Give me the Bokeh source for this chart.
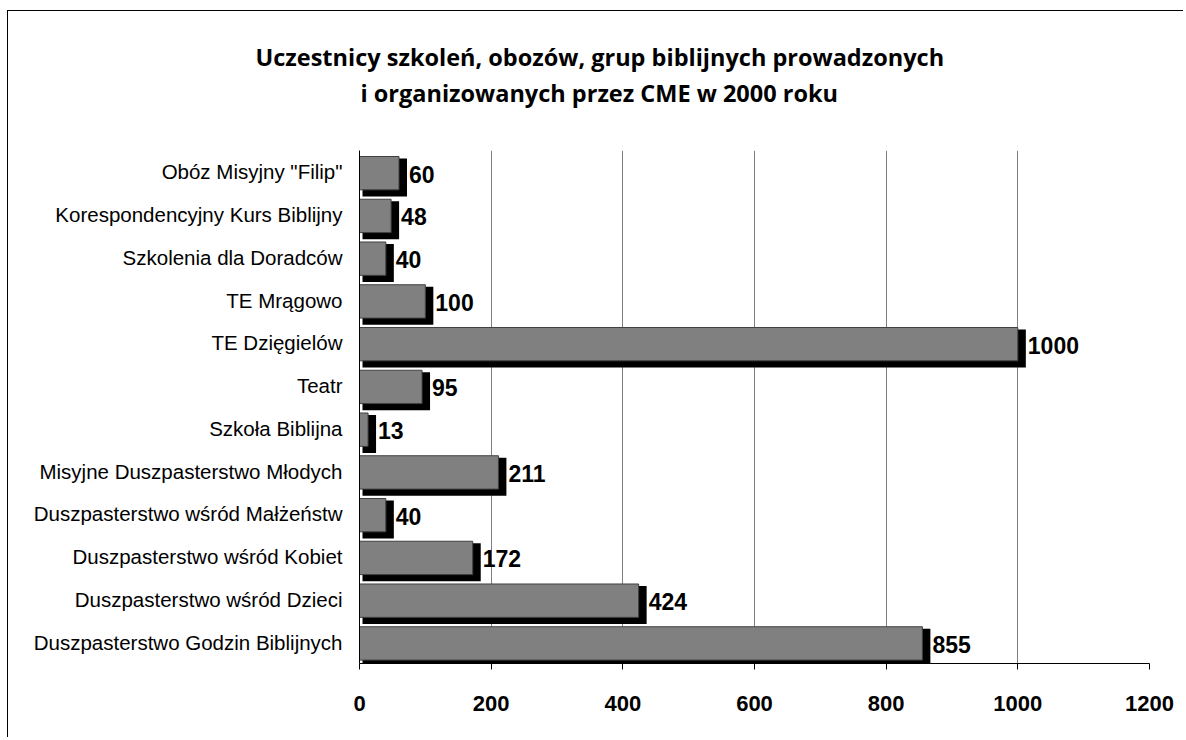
from bokeh.plotting import figure
from bokeh.models import FactorRange, Range1d, FixedTicker, ColumnDataSource, Title
from bokeh.transform import dodge
from bokeh.core.properties import value
from bokeh.embed import file_html
from bokeh.resources import INLINE

# ---- data (top to bottom as in the chart) ----
categories = [
    "Obóz Misyjny \"Filip\"",
    "Korespondencyjny Kurs Biblijny",
    "Szkolenia dla Doradców",
    "TE Mrągowo",
    "TE Dzięgielów",
    "Teatr",
    "Szkoła Biblijna",
    "Misyjne Duszpasterstwo Młodych",
    "Duszpasterstwo wśród Małżeństw",
    "Duszpasterstwo wśród Kobiet",
    "Duszpasterstwo wśród Dzieci",
    "Duszpasterstwo Godzin Biblijnych",
]
values = [60, 48, 40, 100, 1000, 95, 13, 211, 40, 172, 424, 855]
x_ticks = [0, 200, 400, 600, 800, 1000, 1200]
title_lines = [
    "Uczestnicy szkoleń, obozów, grup biblijnych prowadzonych",
    "i organizowanych przez CME w 2000 roku",
]

LABEL_FONT = "Liberation Sans"
TITLE_FONT = "Open Sans"

W, H = 1176, 727
px_per_unit = 790.0 / 1200.0
shadow_dx = 8 / px_per_unit
shadow_left = 3 / px_per_unit

src = ColumnDataSource(dict(
    cat=categories,
    val=values,
    sh_right=[v + shadow_dx for v in values],
    lbl=[str(v) for v in values],
))

p = figure(
    width=W, height=H,
    y_range=FactorRange(factors=list(reversed(categories))),
    x_range=Range1d(0, 1200),
    output_backend="svg", toolbar_location=None,
    min_border_left=351, min_border_right=35,
    min_border_top=139, min_border_bottom=75,
)
p.margin = (10, 0, 0, 7)
p.styles = {"border-left": "1px solid black", "border-top": "1px solid black"}
p.outline_line_color = None
p.background_fill_color = "white"
p.border_fill_color = "white"

# shadow
p.hbar(y=dodge("cat", -0.13, range=p.y_range), left=shadow_left, right="sh_right",
       height=0.89, source=src, fill_color="black", line_color=None)
# bars
p.hbar(y=dodge("cat", -0.03, range=p.y_range), left=0, right="val",
       height=0.78, source=src, fill_color="#808080", line_color="#404040", line_width=1)
# value labels
p.text(x="val", y=dodge("cat", -0.05, range=p.y_range), text="lbl", source=src,
       x_offset=10, text_baseline="middle", text_align="left",
       text_font=value(LABEL_FONT), text_font_style="bold", text_font_size="23px",
       text_color="black")

# grid
p.ygrid.grid_line_color = None
p.xgrid.grid_line_color = "#808080"
p.xgrid.grid_line_width = 1
p.xgrid.ticker = FixedTicker(ticks=x_ticks)

# x axis
p.xaxis.ticker = FixedTicker(ticks=x_ticks)
p.xaxis.axis_line_color = "black"
p.xaxis.major_tick_line_color = "black"
p.xaxis.major_tick_out = 6
p.xaxis.major_tick_in = 0
p.xaxis.minor_tick_line_color = None
p.xaxis.major_label_standoff = 26
p.xaxis.major_label_text_font = LABEL_FONT
p.xaxis.major_label_text_font_style = "bold"
p.xaxis.major_label_text_font_size = "22px"
p.xaxis.major_label_text_color = "black"

# y axis
p.yaxis.axis_line_color = "black"
p.yaxis.major_tick_line_color = None
p.yaxis.major_tick_out = 0
p.yaxis.major_tick_in = 0
p.yaxis.major_label_standoff = 17
p.yaxis.major_label_text_font = LABEL_FONT
p.yaxis.major_label_text_font_style = "normal"
p.yaxis.major_label_text_font_size = "20.5px"
p.yaxis.major_label_text_color = "black"

# title: panels stack outward from the plot frame
p.add_layout(Title(text=" ", text_font_size="1px", standoff=37), "above")  # gap above the bars
p.add_layout(Title(text=title_lines[1], align="left", offset=1, standoff=4,
                   text_font=TITLE_FONT, text_font_style="bold", text_font_size="23.5px",
                   text_color="black"), "above")
p.add_layout(Title(text=title_lines[0], align="left", offset=-104, standoff=0,
                   text_font=TITLE_FONT, text_font_style="bold", text_font_size="23.5px",
                   text_color="black"), "above")

open("out.html", "w").write(file_html(p, INLINE))
